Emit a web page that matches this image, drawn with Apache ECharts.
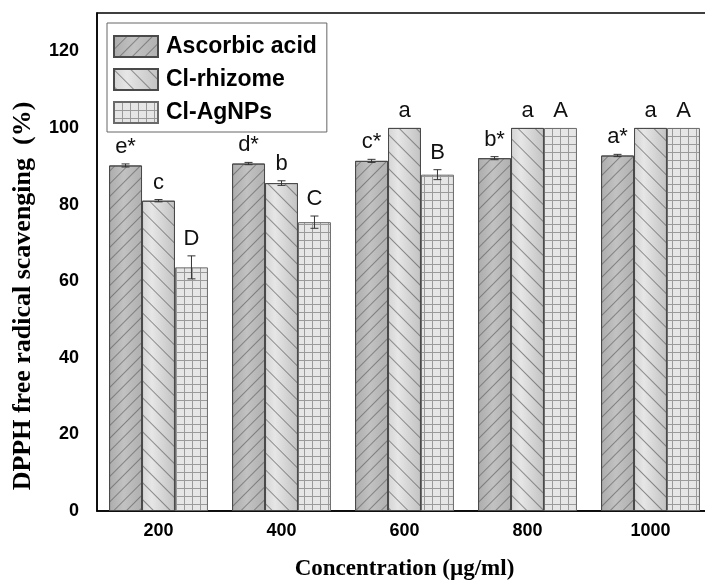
<!DOCTYPE html>
<html>
<head>
<meta charset="utf-8">
<script src="https://cdn.jsdelivr.net/npm/echarts@6/dist/echarts.min.js"></script>
<style>html,body{margin:0;padding:0;background:#fff}#c{width:705px;height:588px}</style>
</head>
<body>
<div id="c"></div>
<script>
const categories = ['200', '400', '600', '800', '1000'];
const seriesNames = ['Ascorbic acid', 'Cl-rhizome', 'Cl-AgNPs'];
const ascorbic = [90.2, 90.7, 91.4, 92.1, 92.8];
const rhizome = [81.0, 85.6, 100, 100, 100];
const agnps = [63.6, 75.4, 87.8, 100, 100];
const ascorbicErr = [0.4, 0.3, 0.4, 0.4, 0.3];
const rhizomeErr = [0.3, 0.6, 0, 0, 0];
const agnpsErr = [3.0, 1.6, 1.3, 0, 0];
const ascorbicLetters = ['e*', 'd*', 'c*', 'b*', 'a*'];
const rhizomeLetters = ['c', 'b', 'a', 'a', 'a'];
const agnpsLetters = ['D', 'C', 'B', 'A', 'A'];
const yTicks = [0, 20, 40, 60, 80, 100, 120];

const values = [ascorbic, rhizome, agnps];
const errs = [ascorbicErr, rhizomeErr, agnpsErr];
const letters = [ascorbicLetters, rhizomeLetters, agnpsLetters];

const BAR_FRAC = 0.268;

function gridPattern() {
  const cv = document.createElement('canvas');
  cv.width = 8; cv.height = 8;
  const g = cv.getContext('2d');
  g.fillStyle = '#e6e6e6';
  g.fillRect(0, 0, 8, 8);
  g.fillStyle = '#9a9a9a';
  g.fillRect(0, 0, 8, 1);
  g.fillRect(0, 0, 1, 8);
  return cv;
}

const styles = [
  {
    color: {type: 'linear', x: 0, y: 0, x2: 1, y2: 0, colorStops: [
      {offset: 0, color: '#acacac'}, {offset: 0.45, color: '#c2c2c2'}, {offset: 1, color: '#b0b0b0'}]},
    borderColor: '#4a4a4a', borderWidth: 1,
    decal: {symbol: 'rect', symbolSize: 1, dashArrayX: [1, 0], dashArrayY: [1, 8], rotation: -Math.PI / 4, color: 'rgba(80,80,80,0.55)'}
  },
  {
    color: {type: 'linear', x: 0, y: 0, x2: 1, y2: 0, colorStops: [
      {offset: 0, color: '#d4d4d4'}, {offset: 0.3, color: '#e6e6e6'}, {offset: 1, color: '#c2c2c2'}]},
    borderColor: '#4a4a4a', borderWidth: 1,
    decal: {symbol: 'rect', symbolSize: 1, dashArrayX: [1, 0], dashArrayY: [1, 11], rotation: Math.PI / 4, color: 'rgba(80,80,80,0.6)'}
  },
  {
    color: {image: gridPattern(), repeat: 'repeat'},
    borderColor: '#6a6a6a', borderWidth: 1
  }
];

function makeRender(k) {
  return function (params, api) {
    const i = api.value(0), v = api.value(1), e = api.value(2);
    const bw = api.size([1, 0])[0] * BAR_FRAC;
    const c = api.coord([i, v]);
    const x = c[0] + (k - 1) * bw;
    const top = api.coord([i, v + e])[1];
    const bot = api.coord([i, v - e])[1];
    const children = [];
    if (e > 0) {
      const ls = {stroke: '#333', lineWidth: 1};
      children.push({type: 'line', shape: {x1: x, y1: top, x2: x, y2: bot}, style: ls});
      children.push({type: 'line', shape: {x1: x - 4, y1: top, x2: x + 4, y2: top}, style: ls});
      children.push({type: 'line', shape: {x1: x - 4, y1: bot, x2: x + 4, y2: bot}, style: ls});
    }
    children.push({type: 'text', style: {
      text: letters[k][params.dataIndex], x: x, y: top - 6,
      align: 'center', verticalAlign: 'bottom',
      font: '22px "Liberation Sans", Arial, sans-serif', fill: '#111'
    }});
    return {type: 'group', children: children};
  };
}

const series = [];
for (let k = 0; k < 3; k++) {
  series.push({
    name: seriesNames[k], type: 'bar', data: values[k],
    barWidth: (BAR_FRAC * 100) + '%', barGap: '0%',
    itemStyle: styles[k], z: 2
  });
}
for (let k = 0; k < 3; k++) {
  series.push({
    type: 'custom', renderItem: makeRender(k), z: 5, silent: true,
    data: values[k].map((v, i) => [i, v, errs[k][i]])
  });
}

const chart = echarts.init(document.getElementById('c'), null, {renderer: 'canvas'});
chart.setOption({
  animation: false,
  backgroundColor: '#fff',
  grid: {left: 97, width: 615, top: 13, bottom: 77, containLabel: false, outerBoundsMode: 'none',
    show: true, borderColor: '#000', borderWidth: 1.5, backgroundColor: 'transparent'},
  legend: {
    data: seriesNames, orient: 'vertical', left: 107, top: 23,
    padding: [12, 10, 8, 6], itemGap: 10, itemWidth: 44, itemHeight: 21, icon: 'rect',
    borderColor: '#666', borderWidth: 1,
    textStyle: {fontFamily: '"Liberation Sans", Arial, sans-serif', fontWeight: 'bold', fontSize: 23, color: '#000', padding: [0, 0, 0, 3]}
  },
  xAxis: {
    type: 'category', data: categories,
    axisLine: {lineStyle: {color: '#000', width: 1.5}}, axisTick: {show: false},
    axisLabel: {margin: 11, color: '#000', fontFamily: '"Liberation Sans", Arial, sans-serif', fontWeight: 'bold', fontSize: 18},
    name: 'Concentration (µg/ml)', nameLocation: 'middle', nameGap: 47,
    nameTextStyle: {fontFamily: '"Liberation Serif", "Times New Roman", serif', fontWeight: 'bold', fontSize: 23, color: '#000'}
  },
  yAxis: {
    type: 'value', min: 0, max: 130, interval: 20,
    axisLine: {show: true, lineStyle: {color: '#000', width: 1.5}}, axisTick: {show: false}, splitLine: {show: false},
    axisLabel: {margin: 18, showMaxLabel: false, color: '#000', fontFamily: '"Liberation Sans", Arial, sans-serif', fontWeight: 'bold', fontSize: 18,
      formatter: v => (yTicks.indexOf(v) >= 0 ? String(v) : '')}
  },
  graphic: [{
    type: 'text', x: 23, y: 296, rotation: Math.PI / 2,
    style: {text: 'DPPH free radical scavenging  (%)', align: 'center', verticalAlign: 'middle',
      font: 'bold 26px "Liberation Serif", "Times New Roman", serif', fill: '#000'}
  }],
  series: series
});
</script>
</body>
</html>
